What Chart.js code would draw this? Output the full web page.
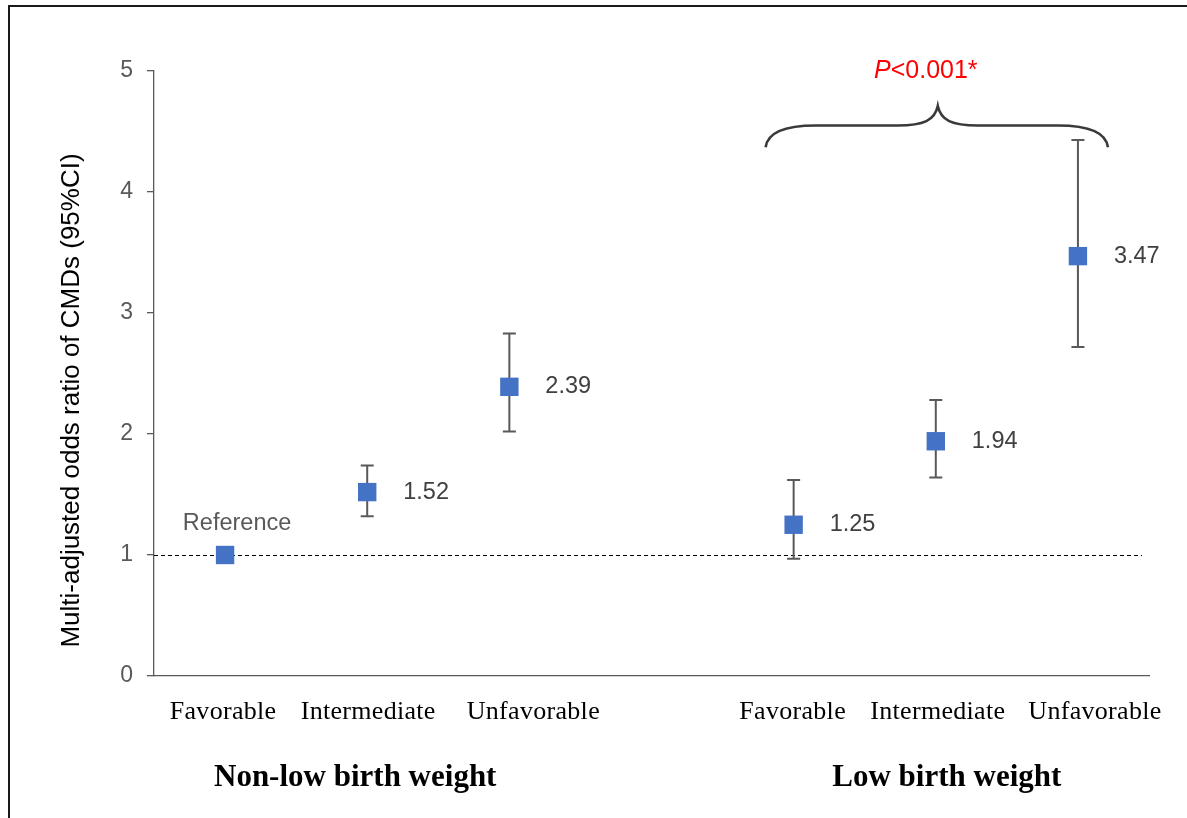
<!DOCTYPE html>
<html>
<head>
<meta charset="utf-8">
<script src="https://cdn.jsdelivr.net/npm/chart.js@4.4.1/dist/chart.umd.min.js"></script>
<style>
  html, body { margin: 0; padding: 0; background: #fff; }
  #wrap { width: 1187px; height: 818px; position: relative; }
</style>
</head>
<body>
<div id="wrap"><canvas id="grafico" width="1187" height="818"></canvas></div>
<script>
// categorias (a vaga do meio separa os dois grupos)
const categorias = ['Favorable', 'Intermediate', 'Unfavorable', '', 'Favorable', 'Intermediate', 'Unfavorable'];
const oddsRatio = [1.00, 1.52, 2.39, null, 1.25, 1.94, 3.47];
const icInferior = [null, 1.32, 2.02, null, 0.97, 1.64, 2.72];
const icSuperior = [null, 1.74, 2.83, null, 1.62, 2.28, 4.43];
const rotulosPontos = ['Reference', '1.52', '2.39', null, '1.25', '1.94', '3.47'];
const grupos = ['Non-low birth weight', 'Low birth weight'];
const indicesGrupos = [[0, 2], [4, 6]];
const ticksY = [0, 1, 2, 3, 4, 5];
const tituloY = 'Multi-adjusted odds ratio of CMDs (95%CI)';
const textoP = ['P', '<0.001*'];

const SANS = '"Liberation Sans", Arial, sans-serif';
const SERIF = '"Liberation Serif", "Times New Roman", serif';

const extras = {
    id: 'extras',
    beforeDraw(chart) {
        const ctx = chart.ctx;
        ctx.save();
        ctx.fillStyle = '#fff';
        ctx.fillRect(0, 0, chart.width, chart.height);
        // moldura (só topo e esquerda aparecem no recorte)
        ctx.strokeStyle = '#1a1a1a';
        ctx.lineWidth = 2;
        ctx.beginPath();
        ctx.moveTo(9, chart.height);
        ctx.lineTo(9, 6);
        ctx.lineTo(chart.width, 6);
        ctx.stroke();
        ctx.restore();
    },
    beforeDatasetsDraw(chart) {
        const ctx = chart.ctx;
        const x = chart.scales.x, y = chart.scales.y;
        const area = chart.chartArea;
        ctx.save();
        // linha de referencia OR = 1
        ctx.strokeStyle = '#000';
        ctx.lineWidth = 1;
        ctx.setLineDash([4, 3]);
        ctx.beginPath();
        const y1 = Math.round(y.getPixelForValue(1)) + 0.5;
        ctx.moveTo(area.left, y1);
        ctx.lineTo(area.right - 7, y1);
        ctx.stroke();
        ctx.setLineDash([]);
        // barras de erro
        ctx.strokeStyle = '#595959';
        ctx.lineWidth = 2;
        categorias.forEach((c, i) => {
            if (icInferior[i] == null || icSuperior[i] == null) return;
            const px = x.getPixelForValue(i);
            const lo = y.getPixelForValue(icInferior[i]);
            const hi = y.getPixelForValue(icSuperior[i]);
            ctx.beginPath();
            ctx.moveTo(px, lo); ctx.lineTo(px, hi);
            ctx.moveTo(px - 6.5, lo); ctx.lineTo(px + 6.5, lo);
            ctx.moveTo(px - 6.5, hi); ctx.lineTo(px + 6.5, hi);
            ctx.stroke();
        });
        ctx.restore();
    },
    afterDatasetsDraw(chart) {
        const ctx = chart.ctx;
        const x = chart.scales.x, y = chart.scales.y;
        ctx.save();
        ctx.fillStyle = '#404040';
        ctx.font = '23.5px ' + SANS;
        ctx.textBaseline = 'middle';
        rotulosPontos.forEach((r, i) => {
            if (!r) return;
            const px = x.getPixelForValue(i);
            const py = y.getPixelForValue(oddsRatio[i]);
            if (i === 0) {
                ctx.textAlign = 'center';
                ctx.fillStyle = '#595959';
                ctx.fillText(r, px + 12, py - 31);
                ctx.fillStyle = '#404040';
            } else {
                ctx.textAlign = 'left';
                ctx.fillText(r, px + 36, py);
            }
        });

        // chave sobre o grupo de baixo peso
        const xE = x.getPixelForValue(4) - 28;
        const xD = x.getPixelForValue(6) + 30;
        const xP = x.getPixelForValue(5) + 2;
        const yFim = y.getPixelForValue(4.37);
        const yH = y.getPixelForValue(4.55);
        const yPico = y.getPixelForValue(4.71);
        ctx.strokeStyle = '#3a3a3a';
        ctx.lineWidth = 2.6;
        ctx.beginPath();
        ctx.moveTo(xE, yFim);
        ctx.bezierCurveTo(xE + 2, yH + 6, xE + 20, yH, xE + 50, yH);
        ctx.lineTo(xP - 40, yH);
        ctx.bezierCurveTo(xP - 14, yH, xP - 3, yH - 5, xP, yPico);
        ctx.bezierCurveTo(xP + 3, yH - 5, xP + 14, yH, xP + 40, yH);
        ctx.lineTo(xD - 50, yH);
        ctx.bezierCurveTo(xD - 20, yH, xD - 2, yH + 6, xD, yFim);
        ctx.stroke();

        // texto do valor P
        ctx.fillStyle = '#ff0000';
        ctx.textBaseline = 'middle';
        ctx.textAlign = 'left';
        const fItal = 'italic 25px ' + SANS;
        const fNorm = '25px ' + SANS;
        ctx.font = fItal;
        const w1 = ctx.measureText(textoP[0]).width;
        ctx.font = fNorm;
        const w2 = ctx.measureText(textoP[1]).width;
        const cx = xP - 12;
        const ty = y.getPixelForValue(5.0);
        ctx.font = fItal;
        ctx.fillText(textoP[0], cx - (w1 + w2) / 2, ty);
        ctx.font = fNorm;
        ctx.fillText(textoP[1], cx - (w1 + w2) / 2 + w1, ty);
        ctx.restore();
    },
    afterDraw(chart, args, opts) {
        const ctx = chart.ctx;
        const x = chart.scales.x;
        const area = chart.chartArea;
        ctx.save();
        ctx.fillStyle = '#000';
        ctx.textAlign = 'center';
        ctx.textBaseline = 'middle';
        // rotulos das categorias
        ctx.font = '26px ' + SERIF;
        ctx.letterSpacing = '0.3px';
        categorias.forEach((c, i) => {
            if (!c) return;
            ctx.fillText(c, x.getPixelForValue(i) + opts.desvioRotulos[i], area.bottom + 36);
        });
        // rotulos dos grupos
        ctx.font = 'bold 31px ' + SERIF;
        ctx.letterSpacing = '0px';
        grupos.forEach((g, k) => {
            const [a, b] = indicesGrupos[k];
            const cx = (x.getPixelForValue(a) + x.getPixelForValue(b)) / 2 + opts.desvioGrupos[k];
            ctx.fillText(g, cx, area.bottom + 102);
        });
        // titulo do eixo y
        ctx.font = '26px ' + SANS;
        ctx.translate(72, (area.top + area.bottom) / 2 + 27);
        ctx.rotate(-Math.PI / 2);
        ctx.fillText(tituloY, 0, 0);
        ctx.restore();
    }
};

const grafico = new Chart(document.getElementById('grafico'), {
    type: 'line',
    data: {
        labels: categorias,
        datasets: [{
            data: oddsRatio,
            showLine: false,
            pointStyle: 'rect',
            pointRadius: 13,
            pointHoverRadius: 13,
            pointBorderWidth: 0,
            pointBackgroundColor: '#4472c4',
            pointBorderColor: '#4472c4'
        }]
    },
    options: {
        responsive: false,
        animation: false,
        events: [],
        layout: { padding: { left: 0, top: 71, right: 38, bottom: 0 } },
        scales: {
            x: {
                type: 'category',
                offset: true,
                grid: { display: false },
                border: { display: true, color: '#595959', width: 1.3 },
                ticks: { display: false },
                afterFit: s => { s.height = 142; }
            },
            y: {
                min: 0,
                max: 5,
                afterBuildTicks: s => { s.ticks = ticksY.map(v => ({ value: v })); },
                ticks: { color: '#595959', font: { family: SANS, size: 23 }, padding: 14 },
                grid: { drawOnChartArea: false, drawTicks: true, tickLength: 7, color: '#595959', lineWidth: 1.3 },
                border: { display: true, color: '#595959', width: 1.3 },
                afterFit: s => { s.width = 154; }
            }
        },
        plugins: {
            legend: { display: false },
            tooltip: { enabled: false },
            extras: {
                desvioRotulos: [-2, 1, 24, 0, -1, 2, 17],
                desvioGrupos: [-12, 11]
            }
        }
    },
    plugins: [extras]
});
</script>
</body>
</html>
